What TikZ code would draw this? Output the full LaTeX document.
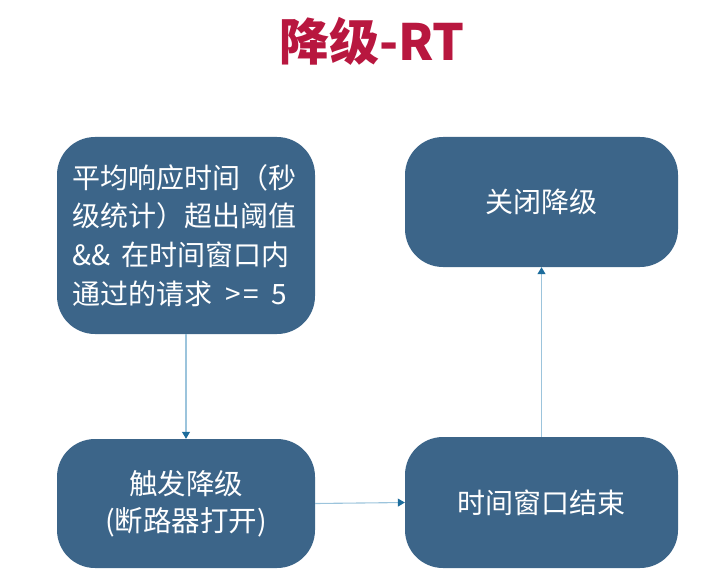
\documentclass[tikz,border=0pt]{standalone}
\usepackage{fontspec}
\setmainfont{Noto Sans CJK SC}
\usetikzlibrary{arrows.meta}
\definecolor{boxblue}{HTML}{3C6589}
\definecolor{titlered}{HTML}{B8173F}
\definecolor{linelight}{HTML}{9CC4DC}
\definecolor{arrowdark}{HTML}{1C6C9C}
\tikzset{
  stepbox/.style={fill=boxblue, rounded corners=38pt, inner sep=0pt,
    text=white, font=\fontsize{28}{38.7}\selectfont, align=center},
  link/.style={draw=linelight, line width=1.1pt,
    -{Triangle[length=7pt,width=8pt,color=arrowdark]}}
}
\begin{document}
\begin{tikzpicture}[x=1pt,y=1pt]
\useasboundingbox (0,0) rectangle (708,582);
\node[text=titlered, font=\fontsize{50}{52}\selectfont\bfseries] (title) at (372,541) {降级-RT};
\node[stepbox, minimum width=258pt, minimum height=197pt, text width=228pt, align=left] (cond) at (186,346.5)
  {平均响应时间（秒\\级统计）超出阈值\\\&\& \hspace{2pt}在时间窗口内\\通过的请求 \hspace{4pt}>\hspace{3pt}=\hspace{12pt}5};
\node[stepbox, minimum width=273pt, minimum height=130pt] (close) at (541.5,380) {关闭降级};
\node[stepbox, minimum width=258pt, minimum height=129pt, font=\fontsize{28.5}{37}\selectfont] (trig) at (186,78.5) {触发降级\\(断路器打开)};
\node[stepbox, minimum width=273pt, minimum height=131pt] (win) at (541.5,79.5) {时间窗口结束};
\draw[link] (cond.south) -- (trig.north);
\draw[link] (trig.east) -- (win.west);
\draw[link] (win.north) -- (close.south);
\end{tikzpicture}
\end{document}
